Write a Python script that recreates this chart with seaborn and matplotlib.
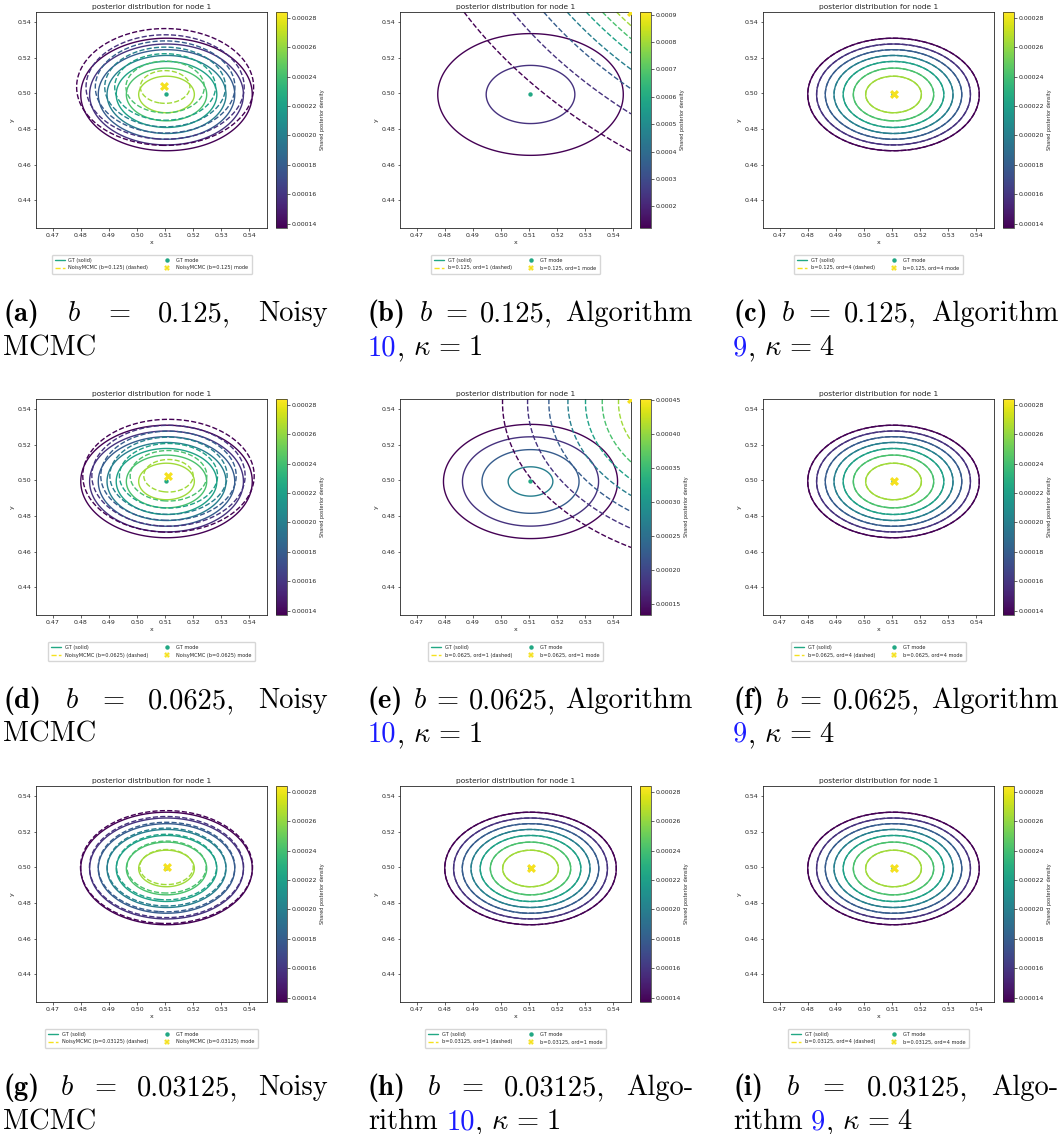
import numpy as np
import matplotlib
matplotlib.use("Agg")
import matplotlib.pyplot as plt
from matplotlib.colors import Normalize
from matplotlib.cm import ScalarMappable
from matplotlib.lines import Line2D
from matplotlib.transforms import IdentityTransform
import seaborn as sns

sns.set_style("ticks")
plt.rcParams["font.family"] = ["DejaVu Sans"]
plt.rcParams["mathtext.fontset"] = "cm"

W, H = 1061, 1134

# ---- values ----
x_lim = (0.4640, 0.5463)
y_lim = (0.4245, 0.5455)
x_ticks = [0.47, 0.48, 0.49, 0.50, 0.51, 0.52, 0.53, 0.54]
y_ticks = [0.44, 0.46, 0.48, 0.50, 0.52, 0.54]

# ground truth posterior (same in every panel)
gt_mode = [0.5105, 0.4993]
gt_sigma = [0.0253, 0.0261]
gt_peak = 0.000284

# approximations, panels (a) .. (i)
approx_names = ["NoisyMCMC (b=0.125)", "b=0.125, ord=1", "b=0.125, ord=4",
                "NoisyMCMC (b=0.0625)", "b=0.0625, ord=1", "b=0.0625, ord=4",
                "NoisyMCMC (b=0.03125)", "b=0.03125, ord=1", "b=0.03125, ord=4"]
approx_cx = [0.5100, 0.705, 0.5105, 0.5112, 0.5955, 0.5105, 0.5105, 0.5105, 0.5105]
approx_cy = [0.5035, 0.650, 0.4993, 0.5025, 0.5436, 0.4993, 0.5001, 0.4993, 0.4993]
approx_sx = [0.0265, 0.0742, 0.0253, 0.0256, 0.0526, 0.0253, 0.0255, 0.0253, 0.0253]
approx_sy = [0.0275, 0.0742, 0.0261, 0.0265, 0.0526, 0.0261, 0.0263, 0.0261, 0.0261]
approx_peak = [0.000278, 0.02462, 0.000284, 0.000279, 0.000684,
               0.000284, 0.000282, 0.000284, 0.000284]
mode_x = [0.5096, 0.5463, 0.5105, 0.5112, 0.5463, 0.5105, 0.5105, 0.5105, 0.5105]
mode_y = [0.5039, 0.5455, 0.4993, 0.5025, 0.5455, 0.4993, 0.5002, 0.4993, 0.4993]

cbar_min = [0.000137, 0.000121, 0.000137, 0.000137, 0.000134,
            0.000137, 0.000137, 0.000137, 0.000137]
cbar_max = [0.000284, 0.00091, 0.000284, 0.000284, 0.000452,
            0.000284, 0.000284, 0.000284, 0.000284]
ticks_small = [0.00014, 0.00016, 0.00018, 0.00020, 0.00022, 0.00024, 0.00026, 0.00028]
ticks_ord1_b = [0.0002, 0.0003, 0.0004, 0.0005, 0.0006, 0.0007, 0.0008, 0.0009]
ticks_ord1_e = [0.00015, 0.00020, 0.00025, 0.00030, 0.00035, 0.00040, 0.00045]
cbar_ticks = [ticks_small, ticks_ord1_b, ticks_small, ticks_small, ticks_ord1_e,
              ticks_small, ticks_small, ticks_small, ticks_small]

# captions
cap_labels = ["(a)", "(b)", "(c)", "(d)", "(e)", "(f)", "(g)", "(h)", "(i)"]
cap_b = ["0.125,", "0.125,", "0.125,", "0.0625,", "0.0625,", "0.0625,",
         "0.03125,", "0.03125,", "0.03125,"]
cap_word = ["Noisy", "Algorithm", "Algorithm", "Noisy", "Algorithm", "Algorithm",
            "Noisy", "Algo-", "Algo-"]
cap_ref = [None, "10", "9", None, "10", "9", None, "10", "9"]
cap_kappa = [None, "1", "4", None, "1", "4", None, "1", "4"]

# ---- layout (pixels) ----
ax_left = [36, 400, 763]
ax_top = [12, 399, 786]
AX_W, AX_H = 231, 216
cap_left = [3, 368, 733]
CAP_W = 325
cap_base1 = [321, 708, 1095]
CAP_FS = 20.5

GT_COL = "#22a884"
AP_COL = "#f5e11e"

fig = plt.figure(figsize=(W / 100, H / 100), dpi=100)

gx, gy = np.meshgrid(np.linspace(x_lim[0], x_lim[1], 500),
                     np.linspace(y_lim[0], y_lim[1], 500))


def gauss(peak, cx, cy, sx, sy):
    return peak * np.exp(-((gx - cx) ** 2 / (2 * sx ** 2) + (gy - cy) ** 2 / (2 * sy ** 2)))


z_gt = gauss(gt_peak, gt_mode[0], gt_mode[1], gt_sigma[0], gt_sigma[1])

for i in range(9):
    r, c = divmod(i, 3)
    left, top = ax_left[c], ax_top[r]
    bottom = 1 - (top + AX_H) / H
    ax = fig.add_axes([left / W, bottom, AX_W / W, AX_H / H])
    cax = fig.add_axes([(left + AX_W + 9) / W, bottom, 11 / W, AX_H / H])

    norm = Normalize(cbar_min[i], cbar_max[i])
    levels = np.linspace(cbar_min[i], cbar_max[i], 8)
    z_ap = gauss(approx_peak[i], approx_cx[i], approx_cy[i], approx_sx[i], approx_sy[i])

    ax.contour(gx, gy, z_gt, levels=levels, cmap="viridis", norm=norm, linewidths=1.0)
    ax.contour(gx, gy, z_ap, levels=levels, cmap="viridis", norm=norm,
               linewidths=1.0, linestyles="--")

    sns.scatterplot(x=[gt_mode[0]], y=[gt_mode[1]], color=GT_COL, s=10,
                    edgecolor="none", ax=ax, legend=False, zorder=5)
    sns.scatterplot(x=[mode_x[i]], y=[mode_y[i]], marker="X", color=AP_COL, s=42,
                    linewidth=0, ax=ax, legend=False, zorder=6)

    ax.set_xlim(x_lim)
    ax.set_ylim(y_lim)
    ax.set_xticks(x_ticks)
    ax.set_yticks(y_ticks)
    ax.tick_params(labelsize=4.5, length=1.8, width=0.5, pad=1.5)
    for sp in ax.spines.values():
        sp.set_linewidth(0.6)
    ax.set_title("posterior distribution for node 1", fontsize=5.4, pad=2.5)
    ax.set_xlabel("x", fontsize=4.5, labelpad=2)
    ax.set_ylabel("y", fontsize=4.5, labelpad=2)

    handles = [Line2D([], [], color=GT_COL, lw=1.0, label="GT (solid)"),
               Line2D([], [], color=AP_COL, lw=1.0, ls="--",
                      label=f"{approx_names[i]} (dashed)"),
               Line2D([], [], color=GT_COL, marker="o", ls="", ms=2.2, label="GT mode"),
               Line2D([], [], color=AP_COL, marker="X", ls="", ms=3.8,
                      markeredgewidth=0, label=f"{approx_names[i]} mode")]
    ax.legend(handles=handles, loc="upper center", bbox_to_anchor=(0.5, -0.125),
              ncol=2, fontsize=3.6, frameon=True, columnspacing=2.8,
              handlelength=2.0, borderpad=0.6, labelspacing=0.5,
              edgecolor="0.8", borderaxespad=0)

    cb = fig.colorbar(ScalarMappable(norm=norm, cmap="viridis"), cax=cax)
    cb.set_ticks(cbar_ticks[i])
    cb.set_label("Shared posterior density", fontsize=3.5, labelpad=2)
    cb.ax.tick_params(labelsize=4.5, length=1.8, width=0.5, pad=1.5)
    cb.outline.set_linewidth(0.5)

# ---- captions ----
renderer = fig.canvas.get_renderer()
SPACE = 0.30 * CAP_FS * 100 / 72


def make_text(s, color="black"):
    kw = {}
    if not s.startswith("$"):
        kw["family"] = "cmb10" if s.startswith("(") else "cmr10"
    return fig.text(0, 0, s, transform=IdentityTransform(), fontsize=CAP_FS,
                    color=color, va="baseline", ha="left", **kw)


def text_w(t):
    return t.get_window_extent(renderer=renderer).width


for i in range(9):
    r, c = divmod(i, 3)
    x0 = cap_left[c]
    y1 = H - cap_base1[r]
    y2 = y1 - 34

    # first line, justified to the column width
    words = [make_text(s) for s in [cap_labels[i], "$b$", "=", cap_b[i], cap_word[i]]]
    widths = [text_w(t) for t in words]
    gap = (CAP_W - sum(widths)) / (len(words) - 1)
    x = x0
    for t, w in zip(words, widths):
        t.set_position((x, y1))
        x += w + gap

    # second line, natural spacing
    x = x0
    if cap_ref[i] is None:
        make_text("MCMC").set_position((x, y2))
        continue
    if cap_word[i] == "Algo-":
        t = make_text("rithm")
        t.set_position((x, y2))
        x += text_w(t) + SPACE
    t = make_text(cap_ref[i], color="#1a1aff")
    t.set_position((x, y2))
    x += text_w(t)
    t = make_text(",")
    t.set_position((x, y2))
    x += text_w(t) + SPACE
    for s in ["$\\kappa$", "=", cap_kappa[i]]:
        t = make_text(s)
        t.set_position((x, y2))
        x += text_w(t) + SPACE * 0.9

fig.savefig("out.png", dpi=100)
